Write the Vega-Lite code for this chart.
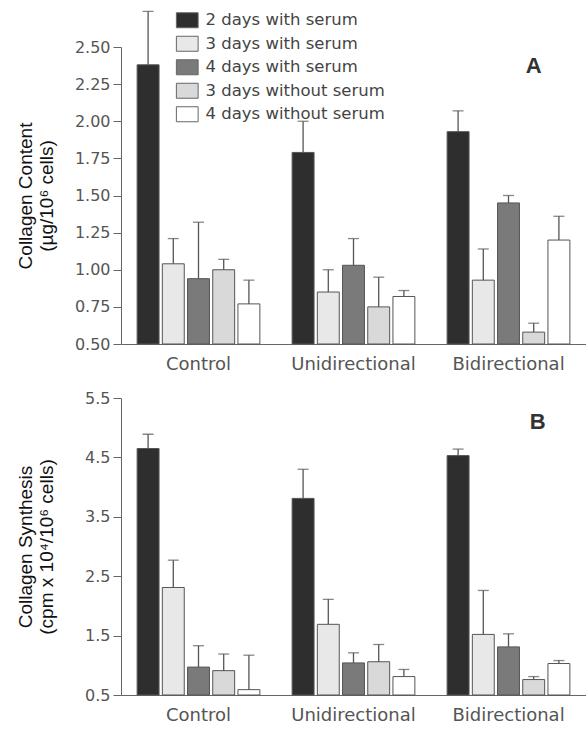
{
  "$schema": "https://vega.github.io/schema/vega-lite/v6.json",
  "padding": {"left": 16, "top": 10, "right": 0, "bottom": 0},
  "background": "white",
  "datasets": {
    "content": [
      {"grp": "Control", "series": "2 days with serum", "value": 2.38, "err": 2.74},
      {"grp": "Control", "series": "3 days with serum", "value": 1.04, "err": 1.21},
      {"grp": "Control", "series": "4 days with serum", "value": 0.94, "err": 1.32},
      {"grp": "Control", "series": "3 days without serum", "value": 1.00, "err": 1.07},
      {"grp": "Control", "series": "4 days without serum", "value": 0.77, "err": 0.93},
      {"grp": "Unidirectional", "series": "2 days with serum", "value": 1.79, "err": 2.00},
      {"grp": "Unidirectional", "series": "3 days with serum", "value": 0.85, "err": 1.00},
      {"grp": "Unidirectional", "series": "4 days with serum", "value": 1.03, "err": 1.21},
      {"grp": "Unidirectional", "series": "3 days without serum", "value": 0.75, "err": 0.95},
      {"grp": "Unidirectional", "series": "4 days without serum", "value": 0.82, "err": 0.86},
      {"grp": "Bidirectional", "series": "2 days with serum", "value": 1.93, "err": 2.07},
      {"grp": "Bidirectional", "series": "3 days with serum", "value": 0.93, "err": 1.14},
      {"grp": "Bidirectional", "series": "4 days with serum", "value": 1.45, "err": 1.50},
      {"grp": "Bidirectional", "series": "3 days without serum", "value": 0.58, "err": 0.64},
      {"grp": "Bidirectional", "series": "4 days without serum", "value": 1.20, "err": 1.36}
    ],
    "synthesis": [
      {"grp": "Control", "series": "2 days with serum", "value": 4.65, "err": 4.89},
      {"grp": "Control", "series": "3 days with serum", "value": 2.31, "err": 2.77},
      {"grp": "Control", "series": "4 days with serum", "value": 0.97, "err": 1.33},
      {"grp": "Control", "series": "3 days without serum", "value": 0.91, "err": 1.19},
      {"grp": "Control", "series": "4 days without serum", "value": 0.59, "err": 1.17},
      {"grp": "Unidirectional", "series": "2 days with serum", "value": 3.81, "err": 4.30},
      {"grp": "Unidirectional", "series": "3 days with serum", "value": 1.69, "err": 2.11},
      {"grp": "Unidirectional", "series": "4 days with serum", "value": 1.04, "err": 1.21},
      {"grp": "Unidirectional", "series": "3 days without serum", "value": 1.06, "err": 1.35},
      {"grp": "Unidirectional", "series": "4 days without serum", "value": 0.81, "err": 0.93},
      {"grp": "Bidirectional", "series": "2 days with serum", "value": 4.53, "err": 4.64},
      {"grp": "Bidirectional", "series": "3 days with serum", "value": 1.52, "err": 2.26},
      {"grp": "Bidirectional", "series": "4 days with serum", "value": 1.31, "err": 1.53},
      {"grp": "Bidirectional", "series": "3 days without serum", "value": 0.76, "err": 0.81},
      {"grp": "Bidirectional", "series": "4 days without serum", "value": 1.03, "err": 1.08}
    ],
    "letterA": [{"grp": "Bidirectional", "series": "3 days without serum", "y": 2.37, "label": "A"}],
    "letterB": [{"grp": "Bidirectional", "series": "3 days without serum", "y": 5.1, "label": "B"}]
  },
  "config": {
    "view": {"stroke": null},
    "axis": {
      "grid": false,
      "domainColor": "#666",
      "tickColor": "#666",
      "labelColor": "#555",
      "titleColor": "#111",
      "labelFont": "DejaVu Sans",
      "titleFont": "Liberation Sans",
      "titleFontWeight": "normal",
      "labelOverlap": false
    },
    "legend": {
      "orient": "none",
      "legendX": 58,
      "legendY": -35,
      "title": null,
      "symbolType": "M-1.45,-1H1.45V1H-1.45Z",
      "symbolSize": 225,
      "symbolStrokeColor": "#666",
      "symbolStrokeWidth": 1,
      "labelFont": "DejaVu Sans",
      "labelFontSize": 16.5,
      "labelColor": "#444",
      "labelOffset": 10,
      "labelLimit": 400,
      "rowPadding": 3.5
    }
  },
  "spacing": 17,
  "resolve": {"scale": {"fill": "independent"}, "legend": {"fill": "independent"}},
  "vconcat": [
    {
      "width": 465,
      "height": 297,
      "data": {"name": "content"},
      "encoding": {
        "x": {
          "field": "grp", "type": "nominal", "sort": ["Control", "Unidirectional", "Bidirectional"],
          "scale": {"paddingInner": 0, "paddingOuter": 0},
          "axis": {"title": null, "labelAngle": 0, "labelFontSize": 18, "ticks": false, "labelPadding": 11}
        },
        "xOffset": {
          "field": "series", "type": "nominal",
          "sort": ["2 days with serum", "3 days with serum", "4 days with serum", "3 days without serum", "4 days without serum"],
          "scale": {"paddingInner": 0.13, "paddingOuter": 0.64}
        }
      },
      "layer": [
        {
          "mark": {"type": "bar", "stroke": "#555", "strokeWidth": 1},
          "encoding": {
            "y": {
              "field": "value", "type": "quantitative",
              "scale": {"domain": [0.5, 2.5], "zero": false, "nice": false},
              "axis": {
                "values": [0.5, 0.75, 1.0, 1.25, 1.5, 1.75, 2.0, 2.25, 2.5], "format": ".2f",
                "labelFontSize": 16, "tickSize": 8, "labelPadding": 3,
                "title": ["Collagen Content", "(µg/10⁶ cells)"], "titleFontSize": 19, "titleLineHeight": 21, "titlePadding": 18
              }
            },
            "y2": {"datum": 0.5},
            "fill": {
              "field": "series", "type": "nominal",
              "scale": {
                "domain": ["2 days with serum", "3 days with serum", "4 days with serum", "3 days without serum", "4 days without serum"],
                "range": ["#2e2e2e", "#e8e8e8", "#7a7a7a", "#d9d9d9", "#ffffff"]
              }
            }
          }
        },
        {
          "mark": {"type": "rule", "color": "#555", "strokeWidth": 1.3},
          "encoding": {
            "y": {
              "field": "value", "type": "quantitative",
              "axis": {
                "values": [0.5, 0.75, 1.0, 1.25, 1.5, 1.75, 2.0, 2.25, 2.5], "format": ".2f",
                "labelFontSize": 16, "tickSize": 8, "labelPadding": 3,
                "title": ["Collagen Content", "(µg/10⁶ cells)"], "titleFontSize": 19, "titleLineHeight": 21, "titlePadding": 18
              }
            },
            "y2": {"field": "err"}
          }
        },
        {
          "mark": {"type": "tick", "orient": "horizontal", "color": "#555", "size": 11, "thickness": 1.3},
          "encoding": {
            "y": {
              "field": "err", "type": "quantitative",
              "axis": {
                "values": [0.5, 0.75, 1.0, 1.25, 1.5, 1.75, 2.0, 2.25, 2.5], "format": ".2f",
                "labelFontSize": 16, "tickSize": 8, "labelPadding": 3,
                "title": ["Collagen Content", "(µg/10⁶ cells)"], "titleFontSize": 19, "titleLineHeight": 21, "titlePadding": 18
              }
            }
          }
        },
        {
          "data": {"name": "letterA"},
          "mark": {"type": "text", "font": "Liberation Sans", "fontWeight": "bold", "fontSize": 22, "color": "#333", "baseline": "middle", "align": "center"},
          "encoding": {
            "y": {
              "field": "y", "type": "quantitative",
              "axis": {
                "values": [0.5, 0.75, 1.0, 1.25, 1.5, 1.75, 2.0, 2.25, 2.5], "format": ".2f",
                "labelFontSize": 16, "tickSize": 8, "labelPadding": 3,
                "title": ["Collagen Content", "(µg/10⁶ cells)"], "titleFontSize": 19, "titleLineHeight": 21, "titlePadding": 18
              }
            },
            "text": {"field": "label"}
          }
        }
      ]
    },
    {
      "width": 465,
      "height": 297,
      "data": {"name": "synthesis"},
      "encoding": {
        "x": {
          "field": "grp", "type": "nominal", "sort": ["Control", "Unidirectional", "Bidirectional"],
          "scale": {"paddingInner": 0, "paddingOuter": 0},
          "axis": {"title": null, "labelAngle": 0, "labelFontSize": 18, "ticks": false, "labelPadding": 11}
        },
        "xOffset": {
          "field": "series", "type": "nominal",
          "sort": ["2 days with serum", "3 days with serum", "4 days with serum", "3 days without serum", "4 days without serum"],
          "scale": {"paddingInner": 0.13, "paddingOuter": 0.64}
        }
      },
      "layer": [
        {
          "mark": {"type": "bar", "stroke": "#555", "strokeWidth": 1},
          "encoding": {
            "y": {
              "field": "value", "type": "quantitative",
              "scale": {"domain": [0.5, 5.5], "zero": false, "nice": false},
              "axis": {
                "values": [0.5, 1.5, 2.5, 3.5, 4.5, 5.5], "format": ".1f",
                "labelFontSize": 16, "tickSize": 8, "labelPadding": 3,
                "title": ["Collagen Synthesis", "(cpm x 10⁴/10⁶ cells)"], "titleFontSize": 19, "titleLineHeight": 21, "titlePadding": 28
              }
            },
            "y2": {"datum": 0.5},
            "fill": {
              "field": "series", "type": "nominal", "legend": null,
              "scale": {
                "domain": ["2 days with serum", "3 days with serum", "4 days with serum", "3 days without serum", "4 days without serum"],
                "range": ["#2e2e2e", "#e8e8e8", "#7a7a7a", "#d9d9d9", "#ffffff"]
              }
            }
          }
        },
        {
          "mark": {"type": "rule", "color": "#555", "strokeWidth": 1.3},
          "encoding": {"y": {"field": "value", "type": "quantitative"}, "y2": {"field": "err"}}
        },
        {
          "mark": {"type": "tick", "orient": "horizontal", "color": "#555", "size": 11, "thickness": 1.3},
          "encoding": {"y": {"field": "err", "type": "quantitative"}}
        },
        {
          "data": {"name": "letterB"},
          "mark": {"type": "text", "font": "Liberation Sans", "fontWeight": "bold", "fontSize": 22, "color": "#333", "baseline": "middle", "align": "center", "dx": 4},
          "encoding": {"y": {"field": "y", "type": "quantitative"}, "text": {"field": "label"}}
        }
      ]
    }
  ]
}
